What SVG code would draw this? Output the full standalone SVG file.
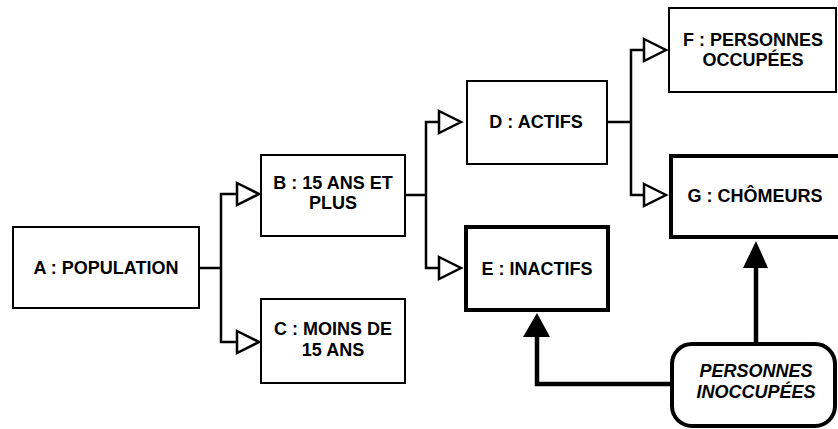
<svg xmlns="http://www.w3.org/2000/svg" width="838" height="429" viewBox="0 0 838 429">
<style>
.box{fill:#fff;stroke:#000;stroke-width:2}
.thick{fill:#fff;stroke:#000;stroke-width:4}
.t{font-family:"Liberation Sans",Arial,sans-serif;font-weight:bold;font-size:18px;fill:#000;text-anchor:middle}
.i{font-style:italic}
.ln{fill:none;stroke:#000;stroke-width:2.5}
.tln{fill:none;stroke:#000;stroke-width:4.5}
.open{fill:#fff;stroke:#000;stroke-width:2.5;stroke-linejoin:miter}
.solid{fill:#000;stroke:none}
</style>
<rect width="838" height="429" fill="#fff"/>
<g id="connectors">
<polyline class="ln" points="200,268 221,268"/>
<polyline class="ln" points="237,194 221,194 221,342 237,342"/>
<polygon class="open" points="237,183 259,194 237,205"/>
<polygon class="open" points="237,331 259,342 237,353"/>
<polyline class="ln" points="406,195 426,195"/>
<polyline class="ln" points="439,122 426,122 426,268 439,268"/>
<polygon class="open" points="439,111 461,122 439,133"/>
<polygon class="open" points="439,257 461,268 439,279"/>
<polyline class="ln" points="608,122 631,122"/>
<polyline class="ln" points="644,50 631,50 631,195 644,195"/>
<polygon class="open" points="644,39 666,50 644,61"/>
<polygon class="open" points="644,184 666,195 644,206"/>
<polyline class="tln" points="672,384 537,384 537,336"/>
<polygon class="solid" points="523,337 537,313 550,337"/>
<polyline class="tln" points="756,344 756,267"/>
<polygon class="solid" points="743,268 756,241 768,268"/>
</g>
<g id="A"><rect class="box" x="13" y="227" width="186" height="81"/><text class="t" x="106" y="274">A : POPULATION</text></g>
<g id="B"><rect class="box" x="261" y="155" width="144" height="81"/><text class="t" x="333" y="189">B : 15 ANS ET</text><text class="t" x="333" y="209">PLUS</text></g>
<g id="C"><rect class="box" x="261" y="299" width="144" height="84"/><text class="t" x="333" y="335">C : MOINS DE</text><text class="t" x="333" y="356">15 ANS</text></g>
<g id="D"><rect class="box" x="467" y="81" width="140" height="83"/><text class="t" x="536" y="128">D : ACTIFS</text></g>
<g id="E"><rect class="thick" x="466" y="227" width="142" height="83"/><text class="t" x="537" y="275">E : INACTIFS</text></g>
<g id="F"><rect class="box" x="669" y="8" width="167" height="84"/><text class="t" x="753" y="46">F : PERSONNES</text><text class="t" x="753" y="66">OCCUPÉES</text></g>
<g id="G"><rect class="thick" x="671" y="156" width="200" height="81"/><text class="t" x="755" y="202">G : CHÔMEURS</text></g>
<g id="P"><rect class="thick" x="672" y="344" width="163" height="82" rx="20"/><text class="t i" x="756" y="377">PERSONNES</text><text class="t i" x="756" y="398">INOCCUPÉES</text></g>
</svg>
